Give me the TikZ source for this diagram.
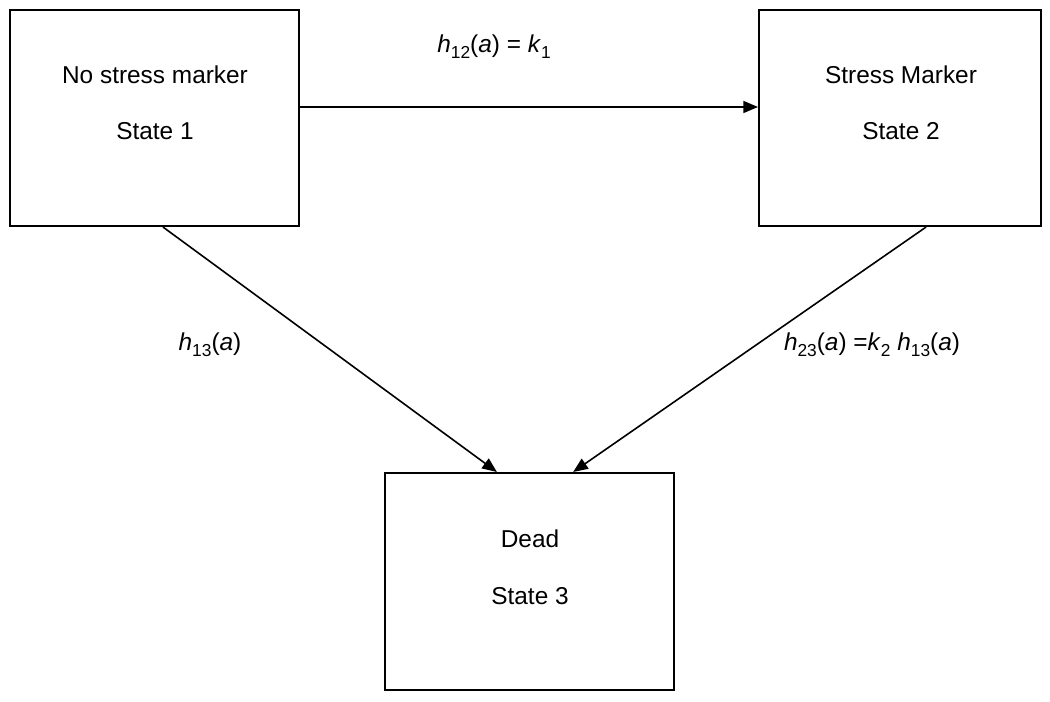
\documentclass[tikz,border=0pt]{standalone}
\usepackage{fontspec}
\setmainfont{Liberation Sans}
\usetikzlibrary{arrows.meta,calc}
\newcommand\lsub[1]{\raisebox{-0.45ex}{\fontsize{13}{13}\selectfont #1}}
\begin{document}
\begin{tikzpicture}[x=0.75pt,y=-0.75pt,
  statebox/.style={draw,line width=1.5pt,inner sep=0pt},
  txt/.style={font=\fontsize{18.3}{21}\selectfont,inner sep=0pt},
  conn/.style={line width=1.2pt,-{Triangle[length=11pt,width=9pt]}}]
\useasboundingbox (0,0) rectangle (1050,702);
\node[statebox,minimum width=216.75pt,minimum height=162pt] (b1) at (154.5,118) {};
\node[statebox,minimum width=211.5pt,minimum height=162pt] (b2) at (900,118) {};
\node[statebox,minimum width=216.75pt,minimum height=162.75pt] (b3) at (529.5,581.5) {};
\node[txt] (t1a) at (155,75) {No stress marker};
\node[txt] (t1b) at (155,131) {State 1};
\node[txt] (t2a) at (901,75) {Stress Marker};
\node[txt] (t2b) at (901,131) {State 2};
\node[txt] (t3a) at (530,539) {Dead};
\node[txt] (t3b) at (530,596) {State 3};
\coordinate (s1) at ($(b1.south west)!0.529!(b1.south east)$);
\coordinate (s2) at ($(b2.south west)!0.592!(b2.south east)$);
\coordinate (e31) at ($(b3.north west)!0.388!(b3.north east)$);
\coordinate (e32) at ($(b3.north west)!0.65!(b3.north east)$);
\draw[conn] (b1.east |- 0,107) -- (b2.west |- 0,107);
\draw[conn] (s1) -- (e31);
\draw[conn] (s2) -- (e32);
\node[txt] (l12) at (494,47) {\textit{h}\lsub{12}(\textit{a}) = \textit{k}\lsub{1}};
\node[txt] (l13) at (210,345) {\textit{h}\lsub{13}(\textit{a})};
\node[txt] (l23) at (872,345) {\textit{h}\lsub{23}(\textit{a}) =\textit{k}\lsub{2} \textit{h}\lsub{13}(\textit{a})};
\end{tikzpicture}
\end{document}
